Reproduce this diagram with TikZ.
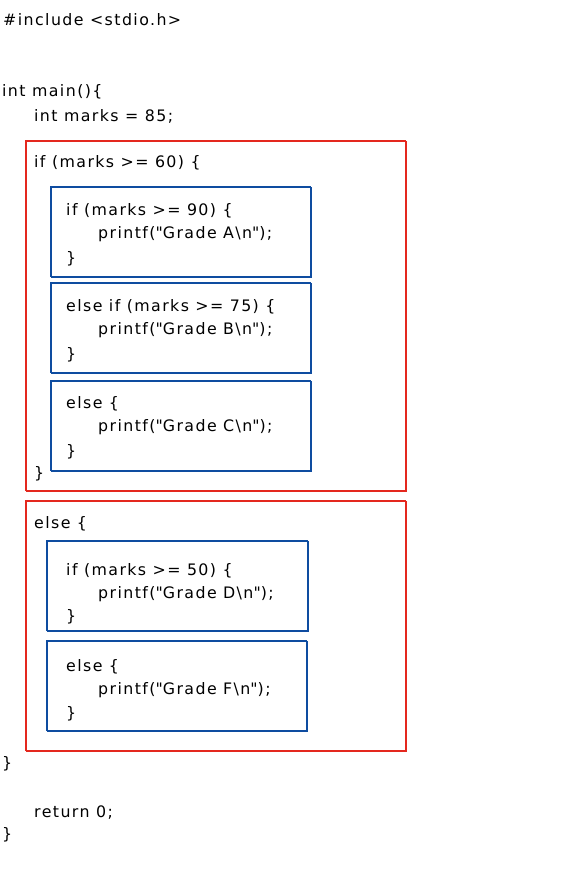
\documentclass[tikz,border=0pt]{standalone}
\usepackage{fontspec}
\setmainfont{DejaVu Sans}[LetterSpace=9]
\definecolor{sketchred}{RGB}{228,40,30}
\definecolor{sketchblue}{RGB}{14,76,160}
\newcommand{\dq}{\textquotedbl}
\tikzset{
  code/.style={anchor=west, inner sep=0pt, font=\fontsize{15.8}{18}\selectfont, text=black, yshift=-1.5pt},
  redbox/.style={draw=sketchred, line width=1pt, anchor=north west, inner sep=0pt,
    postaction={draw=sketchred, line width=0.5pt, transform canvas={shift={(0.8pt,-0.7pt)}}}},
  bluebox/.style={draw=sketchblue, line width=1.1pt, anchor=north west, inner sep=0pt,
    postaction={draw=sketchblue, line width=0.5pt, transform canvas={shift={(0.7pt,-0.8pt)}}}}
}
\begin{document}
\begin{tikzpicture}[x=1pt,y=-1pt]
\useasboundingbox (0,0) rectangle (575,890);
% boxes
\node[redbox, minimum width=380pt, minimum height=350pt] (ifblock) at (25,140) {};
\node[redbox, minimum width=380pt, minimum height=250pt] (elseblock) at (25,500) {};
\node[bluebox, minimum width=260pt, minimum height=90pt] (boxA) at (50,186) {};
\node[bluebox, minimum width=260pt, minimum height=90pt] (boxB) at (50,282) {};
\node[bluebox, minimum width=260pt, minimum height=90pt] (boxC) at (50,380) {};
\node[bluebox, minimum width=261pt, minimum height=90pt] (boxD) at (46,540) {};
\node[bluebox, minimum width=260pt, minimum height=90pt] (boxF) at (46,640) {};
% text
\node[code] (t1) at (3,18) {\#include <stdio.h>};
\node[code] (t2) at (2,90) {int main()\{};
\node[code] (t3) at (34,115) {int marks = 85;};
\node[code] (t4) at (34,161) {if (marks >= 60) \{};
\node[code] (a1) at (66,209) {if (marks >= 90) \{};
\node[code] (a2) at (98,233) {printf(\dq Grade A\textbackslash n\dq);};
\node[code] (a3) at (66,257) {\}};
\node[code] (b1) at (66,305) {else if (marks >= 75) \{};
\node[code] (b2) at (98,329) {printf(\dq Grade B\textbackslash n\dq);};
\node[code] (b3) at (66,353) {\}};
\node[code] (c1) at (66,402) {else \{};
\node[code] (c2) at (98,426) {printf(\dq Grade C\textbackslash n\dq);};
\node[code] (c3) at (66,450) {\}};
\node[code] (t5) at (34,472) {\}};
\node[code] (t6) at (34,522) {else \{};
\node[code] (d1) at (66,569) {if (marks >= 50) \{};
\node[code] (d2) at (98,593) {printf(\dq Grade D\textbackslash n\dq);};
\node[code] (d3) at (66,615) {\}};
\node[code] (f1) at (66,665) {else \{};
\node[code] (f2) at (98,689) {printf(\dq Grade F\textbackslash n\dq);};
\node[code] (f3) at (66,712) {\}};
\node[code] (t7) at (2,762) {\}};
\node[code] (t8) at (34,811) {return 0;};
\node[code] (t9) at (2,833) {\}};
\end{tikzpicture}
\end{document}
